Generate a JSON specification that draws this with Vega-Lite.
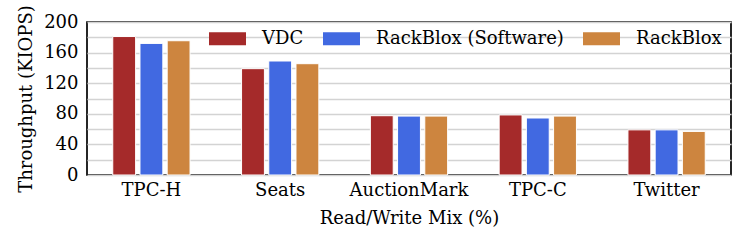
{
  "$schema": "https://vega.github.io/schema/vega-lite/v6.json",
  "autosize": "none",
  "width": 644,
  "height": 153,
  "padding": {"left": 87, "top": 22, "right": 17, "bottom": 70},
  "background": "white",
  "config": {
    "font": "DejaVu Serif",
    "view": {"stroke": "black", "strokeWidth": 1.7},
    "axis": {"labelFont": "DejaVu Serif", "titleFont": "DejaVu Serif", "labelColor": "black", "titleColor": "black", "titleFontWeight": "normal"}
  },
  "data": {
    "values": [
      {"workload": "TPC-H", "system": "VDC", "kiops": 181},
      {"workload": "TPC-H", "system": "RackBlox (Software)", "kiops": 172},
      {"workload": "TPC-H", "system": "RackBlox", "kiops": 175.5},
      {"workload": "Seats", "system": "VDC", "kiops": 139},
      {"workload": "Seats", "system": "RackBlox (Software)", "kiops": 149},
      {"workload": "Seats", "system": "RackBlox", "kiops": 145.5},
      {"workload": "AuctionMark", "system": "VDC", "kiops": 77.5},
      {"workload": "AuctionMark", "system": "RackBlox (Software)", "kiops": 77},
      {"workload": "AuctionMark", "system": "RackBlox", "kiops": 77},
      {"workload": "TPC-C", "system": "VDC", "kiops": 78.5},
      {"workload": "TPC-C", "system": "RackBlox (Software)", "kiops": 74.5},
      {"workload": "TPC-C", "system": "RackBlox", "kiops": 77},
      {"workload": "Twitter", "system": "VDC", "kiops": 59},
      {"workload": "Twitter", "system": "RackBlox (Software)", "kiops": 59},
      {"workload": "Twitter", "system": "RackBlox", "kiops": 57}
    ]
  },
  "mark": {"type": "bar", "stroke": "white", "strokeWidth": 1},
  "encoding": {
    "x": {
      "field": "workload",
      "type": "nominal",
      "sort": ["TPC-H", "Seats", "AuctionMark", "TPC-C", "Twitter"],
      "scale": {"paddingInner": 0.4, "paddingOuter": 0.2},
      "axis": {
        "title": "Read/Write Mix (%)",
        "labelAngle": 0,
        "labelFontSize": 18,
        "titleFontSize": 18,
        "ticks": false,
        "domain": false,
        "labelPadding": 6,
        "titlePadding": 10
      }
    },
    "xOffset": {
      "field": "system",
      "type": "nominal",
      "sort": ["VDC", "RackBlox (Software)", "RackBlox"],
      "scale": {"paddingInner": 0.16}
    },
    "y": {
      "field": "kiops",
      "type": "quantitative",
      "scale": {"domain": [0, 200], "nice": false},
      "axis": {
        "title": "Throughput (KIOPS)",
        "values": [0, 20, 40, 60, 80, 100, 120, 140, 160, 180, 200],
        "labelExpr": "datum.value % 40 == 0 ? datum.label : ''",
        "labelFontSize": 18,
        "titleFontSize": 18,
        "ticks": false,
        "domain": false,
        "grid": true,
        "gridColor": "#d3d3d3",
        "gridWidth": 1.6,
        "gridOpacity": 1,
        "labelPadding": 9,
        "titlePadding": 8
      }
    },
    "color": {
      "field": "system",
      "type": "nominal",
      "sort": ["VDC", "RackBlox (Software)", "RackBlox"],
      "scale": {"domain": ["VDC", "RackBlox (Software)", "RackBlox"], "range": ["#a52a2a", "#4169e1", "#cd853f"]},
      "legend": {
        "title": null,
        "orient": "none",
        "legendX": 122,
        "legendY": -2,
        "direction": "horizontal",
        "symbolType": "M-1,-0.35L1,-0.35L1,0.35L-1,0.35Z",
        "symbolSize": 1369,
        "symbolStrokeWidth": 0,
        "symbolOpacity": 1,
        "labelFontSize": 18,
        "labelFont": "DejaVu Serif",
        "labelColor": "black",
        "labelLimit": 0,
        "labelOffset": 16,
        "columnPadding": 19
      }
    }
  }
}
